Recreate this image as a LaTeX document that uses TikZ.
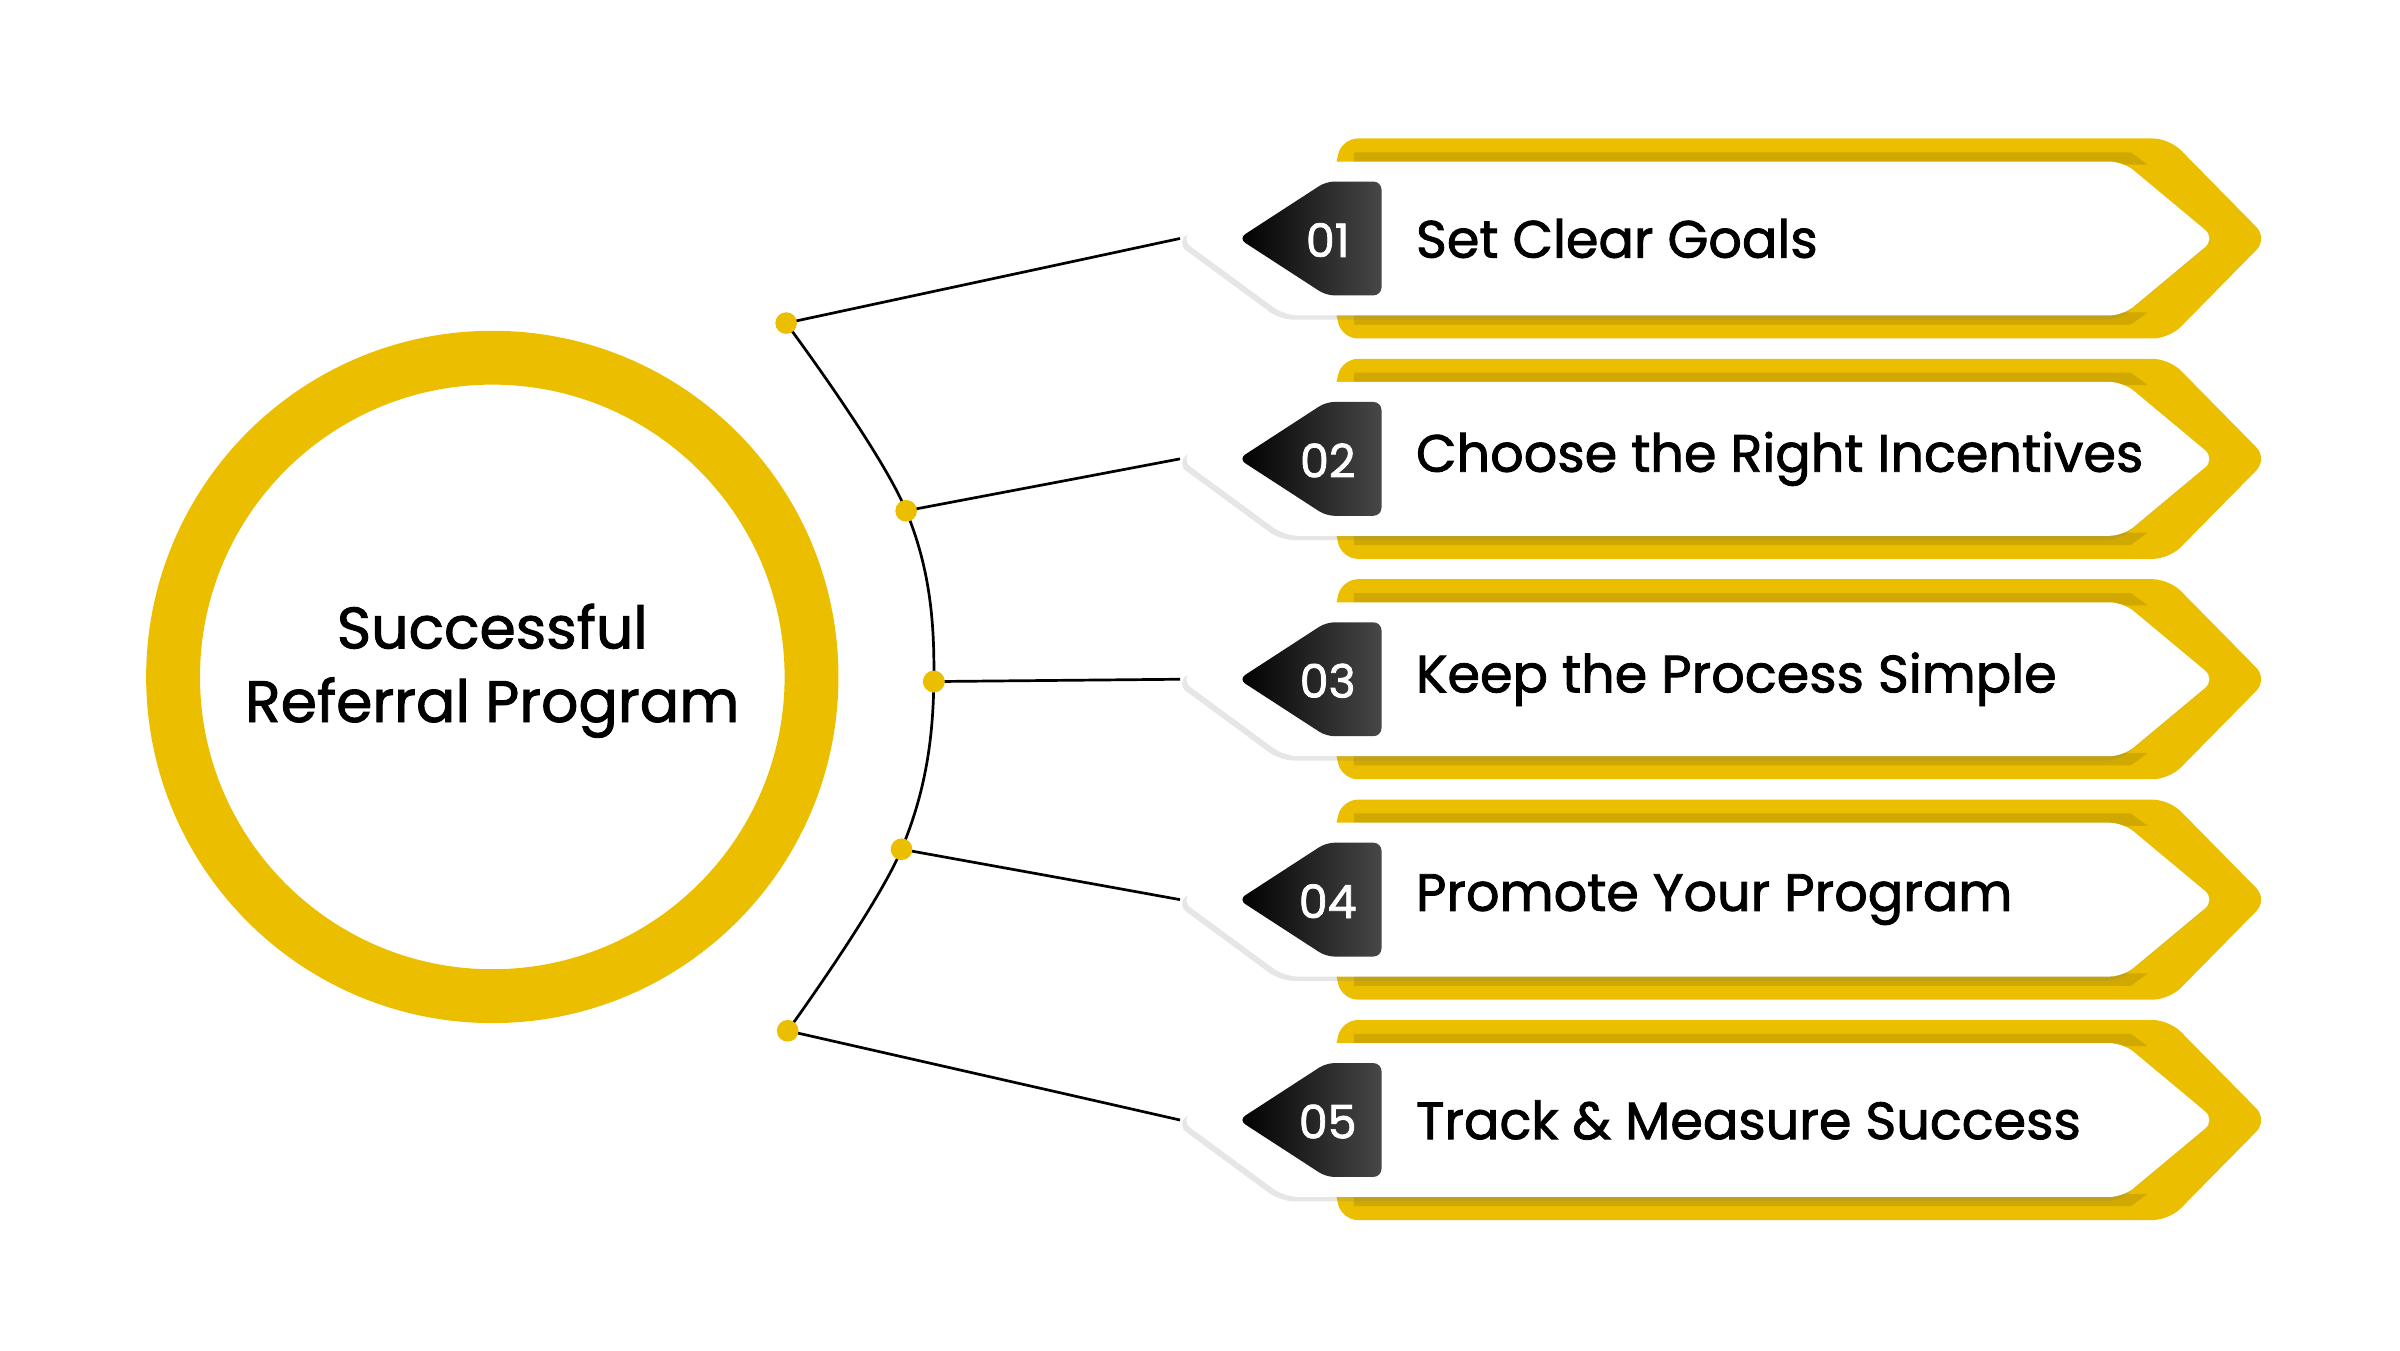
\documentclass[tikz,border=0pt]{standalone}
\usepackage{fontspec}
\setmainfont{Poppins}[FakeBold=1.6]
\usetikzlibrary{shadows}
\definecolor{gold}{HTML}{EBBE00}
\definecolor{darkgold}{HTML}{B89300}

\tikzset{
  backplate/.style={fill=gold, rounded corners=3pt},
  frontplate/.style={fill=white, rounded corners=2.5pt, drop shadow={shadow xshift=-0.8pt, shadow yshift=-0.8pt, opacity=0.2}},
  numtab/.style={left color=black, right color=black!72, rounded corners=1.5pt},
  steplabel/.style={anchor=west, font=\fontsize{9.7}{11.5}\selectfont, text=black},
  numlabel/.style={font=\fontsize{8.5}{10}\selectfont, text=white},
  link/.style={draw=black, line width=0.5pt},
  joint/.style={fill=gold, circle, inner sep=0pt, minimum size=4pt}
}

\begin{document}
\begin{tikzpicture}[x=0.01cm, y=-0.01cm]
        \useasboundingbox (0,0) rectangle (1560,878);

        % centre ring
        \draw[gold, line width=35*0.01cm] (320,440) circle (207.5);
        \node[font=\fontsize{10.8}{13.6}\selectfont, align=center] (hub) at (320,436)
            {Successful\\Referral Program};

        % points on the arc
        \coordinate (d1) at (511,210);
        \coordinate (d2) at (589,332);
        \coordinate (d3) at (607,443);
        \coordinate (d4) at (586,552);
        \coordinate (d5) at (512,670);
        \draw[link] plot[smooth, tension=0.6] coordinates {(d1) (d2) (d3) (d4) (d5)};

        \foreach \i/\txt in {1/Set Clear Goals, 2/Choose the Right Incentives,
                             3/Keep the Process Simple, 4/Promote Your Program,
                             5/Track \& Measure Success}{
            \pgfmathsetmacro{\y}{155+143.25*(\i-1)}
            % yellow plate
            \fill[backplate] (872,\y-65) -- (1410,\y-65) -- (1474,\y) -- (1410,\y+65)
                -- (872,\y+65) -- (858,\y) -- cycle;
            \fill[darkgold, opacity=0.5] (880,\y-56) -- (1385,\y-56) -- (1396,\y-48)
                -- (880,\y-48) -- cycle;
            \fill[darkgold, opacity=0.5] (880,\y+48) -- (1396,\y+48) -- (1385,\y+56)
                -- (880,\y+56) -- cycle;
            % white plate
            \fill[frontplate] (767,\y) -- (835,\y-50) -- (1380,\y-50) -- (1440,\y)
                -- (1380,\y+50) -- (835,\y+50) -- cycle;
            % number tab
            \shade[numtab] (805,\y) -- (862,\y-37) -- (898,\y-37) -- (898,\y+37)
                -- (862,\y+37) -- cycle;
            \node[numlabel] (n\i) at (863,\y+1) {0\i};
            \node[steplabel] (t\i) at (908,\y) {\txt};
            \coordinate (tip\i) at (767,\y);
            \draw[link] (d\i) -- (tip\i);
            \node[joint] at (d\i) {};
        }
        \node[joint] at (d3) {};
\end{tikzpicture}
\end{document}
